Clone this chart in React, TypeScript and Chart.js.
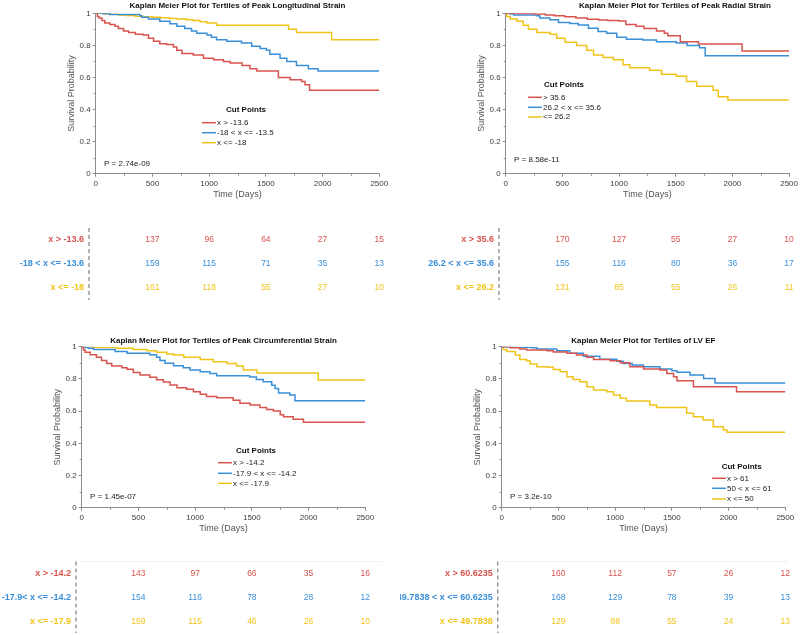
import React, { useEffect, useRef } from 'react';
import { Chart, registerables } from 'chart.js';

Chart.register(...registerables);

const FONT = "'Liberation Sans', Arial, Helvetica, sans-serif";
const RED = '#d9534f';
const BLUE = '#3a8fd9';
const YELLOW = '#f0c419';
const AXIS = '#8c8c8c';

type Pt = [number, number];

// ---------- shared ----------
const riskTimes = [500, 1000, 1500, 2000, 2500];
const xTickStep = 500;
const yTickStep = 0.2;

// ---------- Peak Longitudinal Strain ----------
const lsTitle = 'Kaplan Meier Plot for Tertiles of Peak Longitudinal Strain';
const lsPValue = 'P = 2.74e-09';
const lsLegend = ['x > -13.6', '-18 < x <= -13.5', 'x <= -18'];
const lsTableLabels = ['x > -13.6', '-18 < x <= -13.6', 'x <= -18'];
const lsCurveHigh: Pt[] = [[0,1],[15,0.98],[30,0.97],[55,0.955],[80,0.94],[125,0.93],[170,0.92],[200,0.905],[245,0.89],[290,0.88],[350,0.87],[420,0.865],[465,0.845],[510,0.825],[565,0.81],[625,0.805],[685,0.79],[715,0.77],[760,0.75],[860,0.74],[950,0.72],[1040,0.71],[1125,0.70],[1185,0.69],[1290,0.675],[1360,0.655],[1420,0.64],[1610,0.60],[1715,0.585],[1815,0.575],[1845,0.555],[1885,0.52],[2500,0.52]];
const lsCurveMid: Pt[] = [[0,1],[60,0.997],[125,0.993],[390,0.985],[405,0.975],[465,0.965],[565,0.95],[655,0.935],[715,0.92],[785,0.905],[845,0.89],[890,0.875],[980,0.865],[1020,0.85],[1065,0.835],[1155,0.825],[1285,0.815],[1375,0.795],[1450,0.78],[1505,0.77],[1535,0.745],[1625,0.72],[1685,0.70],[1770,0.675],[1875,0.655],[1960,0.64],[2500,0.64]];
const lsCurveLow: Pt[] = [[0,1],[80,0.997],[130,0.994],[200,0.99],[270,0.987],[350,0.982],[420,0.978],[500,0.975],[570,0.972],[650,0.968],[715,0.965],[800,0.96],[860,0.955],[920,0.948],[980,0.94],[1065,0.925],[1700,0.90],[1770,0.88],[2080,0.835],[2500,0.835]];
const lsRiskHigh = [137, 96, 64, 27, 15];
const lsRiskMid = [159, 115, 71, 35, 13];
const lsRiskLow = [161, 118, 55, 27, 10];

// ---------- Peak Radial Strain ----------
const rsTitle = 'Kaplan Meier Plot for Tertiles of Peak Radial Strain';
const rsPValue = 'P = 8.58e-11';
const rsLegend = ['> 35.6', '26.2 < x <= 35.6', '<= 26.2'];
const rsTableLabels = ['x > 35.6', '26.2 < x <= 35.6', 'x <= 26.2'];
const rsCurveHigh: Pt[] = [[0,1],[100,0.998],[250,0.995],[350,0.99],[430,0.985],[520,0.978],[620,0.97],[720,0.963],[820,0.958],[900,0.955],[1000,0.952],[1060,0.93],[1150,0.92],[1220,0.905],[1330,0.89],[1400,0.875],[1430,0.86],[1540,0.823],[1700,0.808],[2085,0.765],[2500,0.765]];
const rsCurveMid: Pt[] = [[0,1],[40,0.995],[70,0.99],[270,0.985],[300,0.97],[390,0.96],[465,0.943],[565,0.937],[640,0.927],[730,0.907],[815,0.887],[890,0.875],[980,0.85],[1065,0.838],[1210,0.833],[1330,0.823],[1505,0.815],[1600,0.80],[1710,0.785],[1760,0.735],[2500,0.735]];
const rsCurveLow: Pt[] = [[0,1],[10,0.98],[40,0.965],[100,0.95],[155,0.925],[200,0.90],[275,0.88],[390,0.87],[450,0.845],[525,0.82],[625,0.80],[715,0.77],[775,0.74],[860,0.725],[950,0.71],[1035,0.68],[1095,0.66],[1270,0.645],[1375,0.62],[1505,0.607],[1595,0.575],[1685,0.545],[1830,0.52],[1875,0.48],[1960,0.46],[2500,0.46]];
const rsRiskHigh = [170, 127, 55, 27, 10];
const rsRiskMid = [155, 116, 80, 36, 17];
const rsRiskLow = [131, 85, 55, 26, 11];

// ---------- Peak Circumferential Strain ----------
const csTitle = 'Kaplan Meier Plot for Tertiles of Peak Circumferential Strain';
const csPValue = 'P = 1.45e-07';
const csLegend = ['x > -14.2', '-17.9 < x <= -14.2', 'x <= -17.9'];
const csTableLabels = ['x > -14.2', '-17.9< x <= -14.2', 'x <= -17.9'];
const csCurveHigh: Pt[] = [[0,1],[15,0.98],[30,0.965],[75,0.95],[130,0.935],[175,0.915],[220,0.895],[265,0.88],[355,0.87],[400,0.86],[455,0.84],[515,0.825],[600,0.81],[660,0.795],[720,0.78],[780,0.762],[840,0.745],[925,0.735],[985,0.72],[1045,0.705],[1100,0.69],[1190,0.683],[1335,0.668],[1395,0.648],[1485,0.638],[1570,0.623],[1630,0.61],[1690,0.60],[1750,0.577],[1780,0.565],[1865,0.55],[1955,0.53],[2500,0.53]];
const csCurveMid: Pt[] = [[0,1],[30,0.995],[60,0.99],[105,0.983],[295,0.97],[400,0.96],[600,0.95],[660,0.935],[690,0.915],[735,0.897],[810,0.882],[895,0.87],[955,0.855],[1045,0.845],[1130,0.834],[1190,0.82],[1480,0.812],[1540,0.797],[1600,0.783],[1675,0.76],[1705,0.74],[1735,0.713],[1835,0.70],[1880,0.665],[2500,0.665]];
const csCurveLow: Pt[] = [[0,1],[100,0.997],[160,0.995],[310,0.99],[455,0.983],[575,0.975],[660,0.965],[750,0.955],[810,0.948],[900,0.935],[1045,0.92],[1160,0.907],[1280,0.895],[1365,0.88],[1425,0.855],[1545,0.837],[2085,0.793],[2500,0.793]];
const csRiskHigh = [143, 97, 66, 35, 16];
const csRiskMid = [154, 116, 78, 28, 12];
const csRiskLow = [159, 115, 46, 26, 10];

// ---------- LV EF ----------
const efTitle = 'Kaplan Meier Plot for Tertiles of LV EF';
const efPValue = 'P = 3.2e-10';
const efLegend = ['x > 61', '50 < x <= 61', 'x <= 50'];
const efTableLabels = ['x > 60.6235', '49.7838 < x <= 60.6235', 'x <= 49.7838'];
const efCurveHigh: Pt[] = [[0,1],[75,0.993],[160,0.986],[220,0.979],[400,0.975],[455,0.967],[575,0.959],[660,0.948],[750,0.935],[810,0.921],[955,0.912],[1045,0.90],[1130,0.876],[1250,0.862],[1395,0.855],[1455,0.834],[1515,0.814],[1545,0.789],[1690,0.752],[2070,0.72],[2500,0.72]];
const efCurveMid: Pt[] = [[0,1],[100,0.997],[265,0.993],[310,0.986],[485,0.975],[600,0.96],[720,0.94],[865,0.922],[1015,0.91],[1070,0.896],[1150,0.886],[1250,0.876],[1395,0.862],[1500,0.85],[1545,0.842],[1660,0.825],[1780,0.803],[1880,0.775],[2500,0.775]];
const efCurveLow: Pt[] = [[0,1],[15,0.983],[45,0.97],[120,0.948],[160,0.921],[220,0.912],[250,0.892],[310,0.876],[400,0.872],[455,0.859],[515,0.845],[575,0.814],[630,0.797],[690,0.783],[750,0.752],[810,0.731],[925,0.72],[985,0.70],[1045,0.68],[1100,0.663],[1305,0.638],[1365,0.622],[1630,0.587],[1690,0.565],[1775,0.545],[1865,0.503],[1955,0.482],[1985,0.468],[2500,0.468]];
const efRiskHigh = [160, 112, 57, 26, 12];
const efRiskMid = [168, 129, 78, 39, 13];
const efRiskLow = [129, 88, 55, 24, 13];

const seriesColors = [RED, BLUE, YELLOW];

interface Layout {
  canvas: { x: number; y: number; w: number; h: number };
  area: { l: number; r: number; t: number; b: number };
  titleX: number; titleY: number;
  legend: { hx: number; hy: number; lx: number; rows: number[] };
  pval: { x: number; y: number };
  table: { dashX: number; y0: number; y1: number; rows: number[]; rule: null | { y: number; x0: number; x1: number } };
}

interface Panel {
  title: string; pValue: string; legend: string[]; tableLabels: string[];
  curves: Pt[][]; risk: number[][]; layout: Layout;
}

const panels: Panel[] = [
  {
    title: lsTitle, pValue: lsPValue, legend: lsLegend, tableLabels: lsTableLabels,
    curves: [lsCurveHigh, lsCurveMid, lsCurveLow], risk: [lsRiskHigh, lsRiskMid, lsRiskLow],
    layout: {
      canvas: { x: 0, y: 0, w: 400, h: 318 },
      area: { l: 95.7, r: 379.3, t: 13.3, b: 173.7 },
      titleX: 237.5, titleY: 6,
      legend: { hx: 246, hy: 110, lx: 202, rows: [122.7, 132.7, 142.7] },
      pval: { x: 104, y: 164 },
      table: { dashX: 89, y0: 228, y1: 300, rows: [239.5, 264, 288], rule: null },
    },
  },
  {
    title: rsTitle, pValue: rsPValue, legend: rsLegend, tableLabels: rsTableLabels,
    curves: [rsCurveHigh, rsCurveMid, rsCurveLow], risk: [rsRiskHigh, rsRiskMid, rsRiskLow],
    layout: {
      canvas: { x: 400, y: 0, w: 400, h: 318 },
      area: { l: 105.7, r: 389.3, t: 13.3, b: 173.7 },
      titleX: 275, titleY: 6,
      legend: { hx: 164, hy: 85, lx: 128, rows: [97.3, 107.3, 117] },
      pval: { x: 114, y: 160 },
      table: { dashX: 99, y0: 228, y1: 300, rows: [239.5, 264, 288], rule: null },
    },
  },
  {
    title: csTitle, pValue: csPValue, legend: csLegend, tableLabels: csTableLabels,
    curves: [csCurveHigh, csCurveMid, csCurveLow], risk: [csRiskHigh, csRiskMid, csRiskLow],
    layout: {
      canvas: { x: 0, y: 318, w: 400, h: 317 },
      area: { l: 81.7, r: 365.3, t: 28.7, b: 189.7 },
      titleX: 223.5, titleY: 22.7,
      legend: { hx: 256, hy: 133, lx: 218, rows: [144.7, 155.3, 165.3] },
      pval: { x: 90, y: 178.7 },
      table: { dashX: 76, y0: 243.5, y1: 315, rows: [256, 280, 304], rule: { y: 243.5, x0: 80, x1: 383 } },
    },
  },
  {
    title: efTitle, pValue: efPValue, legend: efLegend, tableLabels: efTableLabels,
    curves: [efCurveHigh, efCurveMid, efCurveLow], risk: [efRiskHigh, efRiskMid, efRiskLow],
    layout: {
      canvas: { x: 400, y: 318, w: 400, h: 317 },
      area: { l: 101.7, r: 385.3, t: 28.7, b: 189.7 },
      titleX: 243.3, titleY: 22.7,
      legend: { hx: 341.7, hy: 148.7, lx: 312, rows: [160.3, 170.3, 181] },
      pval: { x: 110, y: 178.7 },
      table: { dashX: 97.7, y0: 243.5, y1: 315, rows: [256, 280, 304], rule: { y: 243.5, x0: 100, x1: 387 } },
    },
  },
];

function makeDecor(p: Panel) {
  const L = p.layout;
  return {
    id: 'decor',
    afterDraw(chart: any) {
      const { ctx, chartArea: a } = chart;
      const xs = chart.scales.x;
      const ys = chart.scales.y;
      ctx.save();

      // minor ticks
      ctx.strokeStyle = AXIS;
      ctx.lineWidth = 1;
      for (let t = 250; t < 2500; t += 500) {
        const px = Math.round(xs.getPixelForValue(t)) + 0.5;
        ctx.beginPath(); ctx.moveTo(px, a.bottom); ctx.lineTo(px, a.bottom + 2); ctx.stroke();
      }
      for (let k = 1; k < 10; k += 2) {
        const py = Math.round(ys.getPixelForValue(k / 10)) + 0.5;
        ctx.beginPath(); ctx.moveTo(a.left, py); ctx.lineTo(a.left - 2, py); ctx.stroke();
      }

      // title
      ctx.fillStyle = '#111';
      ctx.font = `bold 8px ${FONT}`;
      ctx.textAlign = 'center';
      ctx.textBaseline = 'middle';
      ctx.fillText(p.title, L.titleX, L.titleY);

      // axis titles
      ctx.fillStyle = '#555';
      ctx.font = `9px ${FONT}`;
      ctx.fillText('Time (Days)', (a.left + a.right) / 2, a.bottom + 21);
      ctx.save();
      ctx.translate(a.left - 24, (a.top + a.bottom) / 2);
      ctx.rotate(-Math.PI / 2);
      ctx.fillText('Survival Probability', 0, 0);
      ctx.restore();

      // legend
      ctx.fillStyle = '#111';
      ctx.font = `bold 8px ${FONT}`;
      ctx.fillText('Cut Points', L.legend.hx, L.legend.hy);
      ctx.font = `8px ${FONT}`;
      ctx.textAlign = 'left';
      chart.data.datasets.forEach((ds: any, i: number) => {
        const y = L.legend.rows[i];
        ctx.strokeStyle = ds.borderColor;
        ctx.lineWidth = 1.5;
        ctx.beginPath(); ctx.moveTo(L.legend.lx, y); ctx.lineTo(L.legend.lx + 14, y); ctx.stroke();
        ctx.fillStyle = '#222';
        ctx.fillText(ds.label, L.legend.lx + 15, y);
      });

      // p value
      ctx.fillStyle = '#222';
      ctx.fillText(p.pValue, L.pval.x, L.pval.y);

      // risk table
      const T = L.table;
      if (T.rule) {
        ctx.strokeStyle = '#f0f0f0';
        ctx.lineWidth = 1;
        ctx.beginPath(); ctx.moveTo(T.rule.x0, T.rule.y); ctx.lineTo(T.rule.x1, T.rule.y); ctx.stroke();
      }
      ctx.strokeStyle = '#8a8a8a';
      ctx.lineWidth = 1.3;
      ctx.setLineDash([4, 3]);
      ctx.beginPath(); ctx.moveTo(T.dashX, T.y0); ctx.lineTo(T.dashX, T.y1); ctx.stroke();
      ctx.setLineDash([]);
      p.risk.forEach((row, i) => {
        const y = T.rows[i];
        ctx.fillStyle = seriesColors[i];
        ctx.font = `bold 9px ${FONT}`;
        ctx.textAlign = 'right';
        ctx.fillText(p.tableLabels[i], T.dashX - 5, y);
        ctx.font = `8.5px ${FONT}`;
        ctx.textAlign = 'center';
        row.forEach((n, j) => {
          ctx.fillText(String(n), xs.getPixelForValue(riskTimes[j]), y);
        });
      });

      ctx.restore();
    },
  };
}

function KMPanel({ panel }: { panel: Panel }) {
  const ref = useRef<HTMLCanvasElement | null>(null);
  const L = panel.layout;
  useEffect(() => {
    if (!ref.current) return;
    const AX = 30;
    const chart = new Chart(ref.current, {
      type: 'line',
      data: {
        datasets: panel.curves.map((c, i) => ({
          label: panel.legend[i],
          data: c.map(([x, y]) => ({ x, y })),
          borderColor: seriesColors[i],
          backgroundColor: seriesColors[i],
          borderWidth: 1.5,
          pointRadius: 0,
          stepped: true,
          fill: false,
          tension: 0,
        })),
      },
      options: {
        animation: false,
        responsive: false,
        devicePixelRatio: 1,
        events: [],
        layout: {
          padding: {
            left: L.area.l - AX,
            right: L.canvas.w - L.area.r,
            top: L.area.t,
            bottom: L.canvas.h - L.area.b - AX,
          },
        },
        plugins: {
          legend: { display: false },
          title: { display: false },
          tooltip: { enabled: false },
        },
        scales: {
          x: {
            type: 'linear',
            min: 0,
            max: 2500,
            afterFit: (s: any) => { s.height = AX; },
            border: { display: true, color: AXIS, width: 1 },
            grid: { display: true, drawOnChartArea: false, drawTicks: true, tickLength: 3, color: AXIS },
            ticks: {
              stepSize: xTickStep,
              autoSkip: false,
              maxRotation: 0,
              minRotation: 0,
              padding: 2,
              color: '#3c3c3c',
              font: { family: FONT, size: 8 },
              callback: (v: any) => String(Math.round(Number(v))),
            },
          },
          y: {
            type: 'linear',
            min: 0,
            max: 1,
            afterFit: (s: any) => { s.width = AX; },
            border: { display: true, color: AXIS, width: 1 },
            grid: { display: true, drawOnChartArea: false, drawTicks: true, tickLength: 3, color: AXIS },
            ticks: {
              stepSize: yTickStep,
              padding: 2,
              color: '#3c3c3c',
              font: { family: FONT, size: 8 },
              callback: (v: any) => String(Math.round(Number(v) * 10) / 10),
            },
          },
        },
      } as any,
      plugins: [makeDecor(panel)],
    });
    return () => chart.destroy();
  }, [panel]);
  return (
    <canvas
      ref={ref}
      width={L.canvas.w}
      height={L.canvas.h}
      style={{ position: 'absolute', left: L.canvas.x, top: L.canvas.y, width: L.canvas.w, height: L.canvas.h }}
    />
  );
}

export default function App() {
  return (
    <div style={{ position: 'fixed', left: 0, top: 0, width: 800, height: 635, background: '#fff', overflow: 'hidden' }}>
      {panels.map((p, i) => (
        <KMPanel key={i} panel={p} />
      ))}
    </div>
  );
}
